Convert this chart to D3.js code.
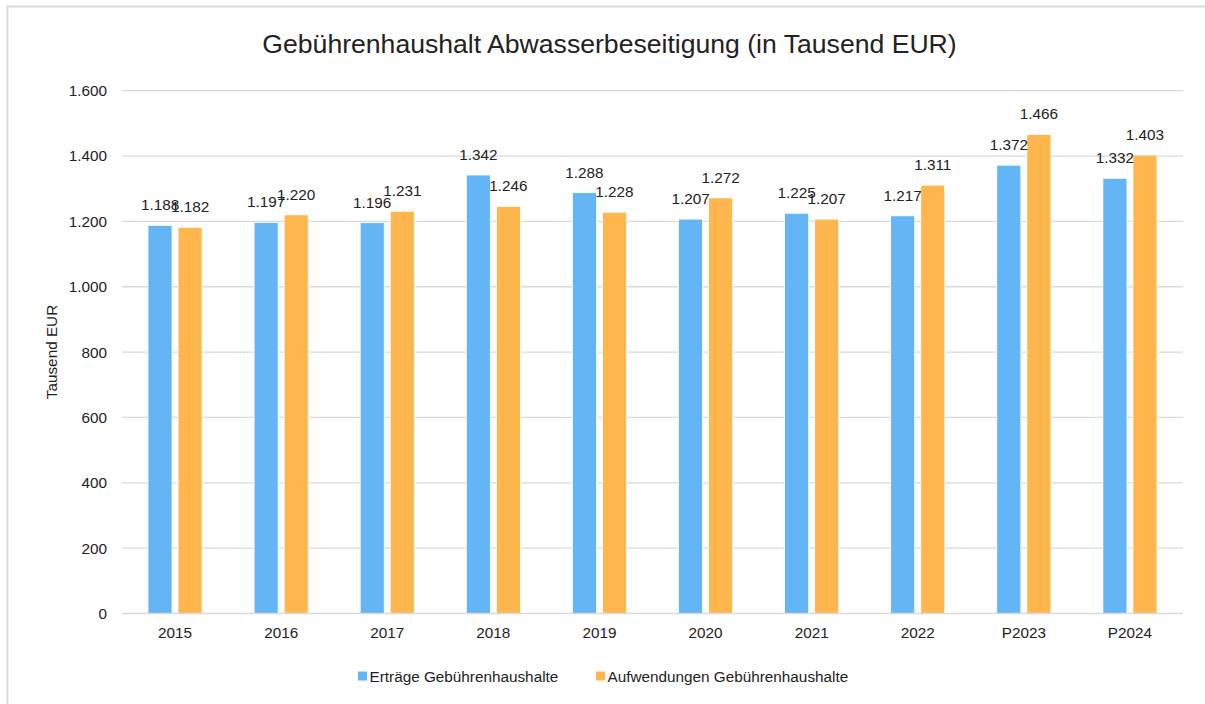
<!DOCTYPE html>
<html>
<head>
<meta charset="utf-8">
<script src="https://cdn.jsdelivr.net/npm/d3@7"></script>
<style>
  html, body { margin: 0; padding: 0; background: #fff; }
  svg { display: block; font-family: "Liberation Sans", Arial, Helvetica, sans-serif; }
</style>
</head>
<body>
<svg id="chart" width="1205" height="704"></svg>
<script>
const title = "Gebührenhaushalt Abwasserbeseitigung (in Tausend EUR)";
const yAxisTitle = "Tausend EUR";
const categories = ["2015", "2016", "2017", "2018", "2019", "2020", "2021", "2022", "P2023", "P2024"];
const seriesNames = ["Erträge Gebührenhaushalte", "Aufwendungen Gebührenhaushalte"];
const ertraege = [1188, 1197, 1196, 1342, 1288, 1207, 1225, 1217, 1372, 1332];
const aufwendungen = [1182, 1220, 1231, 1246, 1228, 1272, 1207, 1311, 1466, 1403];
const yTicks = [0, 200, 400, 600, 800, 1000, 1200, 1400, 1600];
const colors = ["#64B5F6", "#FFB74D"];

const seriesValues = [ertraege, aufwendungen];
const de = d3.formatLocale({decimal: ",", thousands: ".", grouping: [3], currency: ["", " €"]});
const fmt = de.format(",d");

const svg = d3.select("#chart");
const W = 1205, H = 704;
const plot = {left: 122, right: 1183, top: 90.7, bottom: 613.5};

// outer border
svg.append("rect").attr("x", 7.5).attr("y", 6.5).attr("width", W + 10).attr("height", H + 10)
  .attr("fill", "#fff").attr("stroke", "#d9d9d9").attr("stroke-width", 2);

const y = d3.scaleLinear().domain([0, 1600]).range([plot.bottom, plot.top]);
const x0 = d3.scaleBand().domain(categories).range([plot.left, plot.right])
  .paddingInner(0.49).paddingOuter(0.245);
const x1 = d3.scaleBand().domain(d3.range(seriesNames.length)).range([0, x0.bandwidth()])
  .paddingInner(0.2).paddingOuter(0);

// gridlines
svg.append("g").selectAll("line").data(yTicks.filter(d => d > 0)).join("line")
  .attr("x1", plot.left).attr("x2", plot.right)
  .attr("y1", d => y(d)).attr("y2", d => y(d))
  .attr("stroke", "#d9d9d9").attr("stroke-width", 1.3);

// y tick labels
const yAxis = d3.axisLeft(y).tickValues(yTicks).tickFormat(d => fmt(d)).tickSize(0).tickPadding(0);
const gy = svg.append("g").attr("transform", `translate(107,0)`).call(yAxis);
gy.select(".domain").remove();
gy.selectAll("text").attr("font-size", "15.3px").attr("fill", "#222").attr("font-family", "Liberation Sans, Arial, sans-serif");

// bars
const data = categories.map((c, i) => ({cat: c, vals: seriesValues.map(s => s[i])}));
const groups = svg.append("g").selectAll("g").data(data).join("g")
  .attr("transform", d => `translate(${x0(d.cat)},0)`);
groups.selectAll("rect").data(d => d.vals.map((v, k) => ({v, k}))).join("rect")
  .attr("x", d => x1(d.k)).attr("width", x1.bandwidth())
  .attr("y", d => y(d.v)).attr("height", d => y(0) - y(d.v))
  .attr("fill", d => colors[d.k]).attr("stroke", "#fff").attr("stroke-width", 0.8);

// data labels
groups.selectAll("text.lbl").data(d => d.vals.map((v, k) => ({v, k}))).join("text")
  .attr("class", "lbl")
  .attr("x", d => x1(d.k) + x1.bandwidth() / 2)
  .attr("y", d => y(d.v) - 15)
  .attr("text-anchor", "middle").attr("font-size", "15.3px").attr("fill", "#222")
  .text(d => fmt(d.v));

// x axis
const xAxis = d3.axisBottom(x0).tickSize(0).tickPadding(0);
const gx = svg.append("g").attr("transform", `translate(0,${plot.bottom})`).call(xAxis);
gx.select(".domain").attr("stroke", "#d9d9d9").attr("stroke-width", 1.5)
  .attr("d", `M${plot.left},0H${plot.right}`);
gx.selectAll("text").attr("font-size", "15.3px").attr("fill", "#222").attr("dy", null)
  .attr("y", 24).attr("font-family", "Liberation Sans, Arial, sans-serif");

// title
svg.append("text").attr("x", 609.5).attr("y", 53).attr("text-anchor", "middle")
  .attr("font-size", "26.6px").attr("fill", "#222").text(title);

// y axis title
svg.append("text").attr("transform", `translate(57,352) rotate(-90)`)
  .attr("text-anchor", "middle").attr("font-size", "15.3px").attr("fill", "#222").text(yAxisTitle);

// legend
const legendItems = [{x: 358, i: 0}, {x: 596, i: 1}];
const lg = svg.append("g").selectAll("g").data(legendItems).join("g")
  .attr("transform", d => `translate(${d.x},0)`);
lg.append("rect").attr("x", 0).attr("y", 671.5).attr("width", 9).attr("height", 9)
  .attr("fill", d => colors[d.i]);
lg.append("text").attr("x", 11.5).attr("y", 681.5).attr("font-size", "15.3px").attr("fill", "#222")
  .text(d => seriesNames[d.i]);
</script>
</body>
</html>
